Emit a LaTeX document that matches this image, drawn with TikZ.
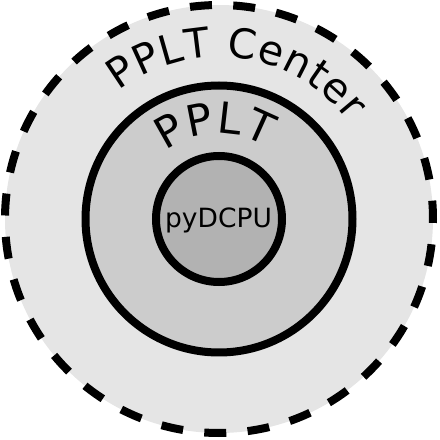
\documentclass[tikz,border=0pt]{standalone}
\usepackage{fontspec}
\setmainfont{DejaVu Sans}
\usetikzlibrary{decorations.text}
\begin{document}
\begin{tikzpicture}[x=1pt,y=1pt,
        ring/.style={line width=8pt},
        arclabel/.style={decorate, decoration={text along path, text align=fit to path, text={#1}}}]
        \useasboundingbox (0,0) rectangle (440,440);
        \coordinate (mid) at (219,221);

        % Draw the three nested circles
        \filldraw[ring, fill=black!10, dash pattern=on 22pt off 21.37pt, dash phase=3.67pt] (mid) circle[radius=214pt];
        \filldraw[ring, fill=black!20] (mid) circle[radius=133.5pt];
        \filldraw[ring, fill=black!30] (mid) circle[radius=63pt];

        % Add labels along the arcs
        \path[arclabel={|\fontsize{41}{41}\selectfont|PPLT Center}] ([shift={(128:162pt)}]mid) arc[start angle=128, end angle=37, radius=162pt];
        \path[arclabel={|\fontsize{43}{43}\selectfont|PPLT}] ([shift={(128:86pt)}]mid) arc[start angle=128, end angle=57, radius=86pt];

        \node[font=\fontsize{26.5}{30}\selectfont, anchor=base, inner sep=0pt] (core) at (218.5,212) {pyDCPU};

    \end{tikzpicture}
\end{document}
